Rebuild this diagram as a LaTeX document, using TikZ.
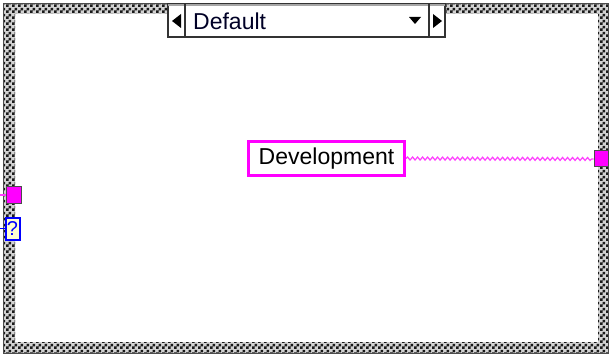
\documentclass[tikz,border=0pt]{standalone}
\usepackage{fontspec}
\setmainfont{Liberation Sans}
\usetikzlibrary{patterns,decorations.pathmorphing}
\definecolor{lvpink}{RGB}{255,0,255}
\definecolor{lvwire}{RGB}{255,60,255}
\definecolor{lvblue}{RGB}{0,0,255}
\definecolor{lvyellow}{RGB}{255,255,210}
\pgfdeclarepatternformonly{finecheck}{\pgfpointorigin}{\pgfqpoint{6pt}{6pt}}{\pgfqpoint{6pt}{6pt}}{%
  \pgfpathrectangle{\pgfpointorigin}{\pgfqpoint{3pt}{3pt}}%
  \pgfpathrectangle{\pgfqpoint{3pt}{3pt}}{\pgfqpoint{3pt}{3pt}}%
  \pgfusepath{fill}}
\tikzset{
  termbox/.style={draw=gray!60!black, line width=1pt, fill=lvpink, minimum width=14pt, minimum height=16pt, inner sep=0pt},
  constbox/.style={draw=lvpink, line width=3pt, fill=white, minimum width=156pt, minimum height=34pt, inner sep=0pt, font=\fontsize{23}{26}\selectfont},
  selbox/.style={draw=black!80, line width=1.2pt, fill=white, inner sep=0pt},
  arrowtri/.style={fill=black},
  stringwire/.style={lvwire, line width=1.2pt, decorate, decoration={snake, amplitude=1.5pt, segment length=5pt}},
}
\begin{document}
\begin{tikzpicture}[x=1pt,y=-1pt]
\useasboundingbox (0,0) rectangle (609,355);
\fill[white] (0,0) rectangle (609,355);
% checkered case structure frame
\fill[gray!35, even odd rule] (3,4) rectangle (608,353) (15,14) rectangle (598,342);
\fill[pattern=finecheck, pattern color=black!90, even odd rule] (3,4) rectangle (608,353) (15,14) rectangle (598,342);
\draw[gray!60!black, line width=1pt] (3,4) rectangle (608,353);
% selector
\node[selbox, minimum width=277pt, minimum height=33pt] (sel) at (306.5,20.5) {};
\draw[gray!70, line width=2pt] (168,5) -- (445,5);
\draw[black!80, line width=1.2pt] (185,4) -- (185,37);
\draw[black!80, line width=1.2pt] (429,4) -- (429,37);
\node[anchor=west, inner sep=0pt, font=\fontsize{23}{26}\selectfont, text=black!85!blue] (seltext) at (193,21) {Default};
\fill[arrowtri] (172,21) -- (181,14) -- (181,28) -- cycle;
\fill[arrowtri] (442,21) -- (433,14) -- (433,28) -- cycle;
\fill[arrowtri] (409,17) -- (421,17) -- (415,24) -- cycle;
% constant
\node[constbox] (dev) at (326.5,158.5) {Development};
% right output tunnel
\node[termbox] (rterm) at (601,159) {};
\draw[stringwire] (dev.east) -- (rterm.west);
% left tunnels
\node[termbox, minimum width=15pt] (lterm) at (13.5,195) {};
\coordinate (lin) at (0,195);
\draw[lvwire, line width=1.2pt] (lin) -- (lterm.west);
\node[draw=lvblue, line width=2pt, fill=lvyellow, minimum width=14pt, minimum height=22pt, inner sep=0pt, text=lvblue, font=\fontsize{20}{22}\selectfont] (qbox) at (12.5,228.5) {?};
\coordinate (qin) at (0,228.5);
\draw[lvblue, line width=1.2pt] (qin) -- (qbox.west);
\end{tikzpicture}
\end{document}
